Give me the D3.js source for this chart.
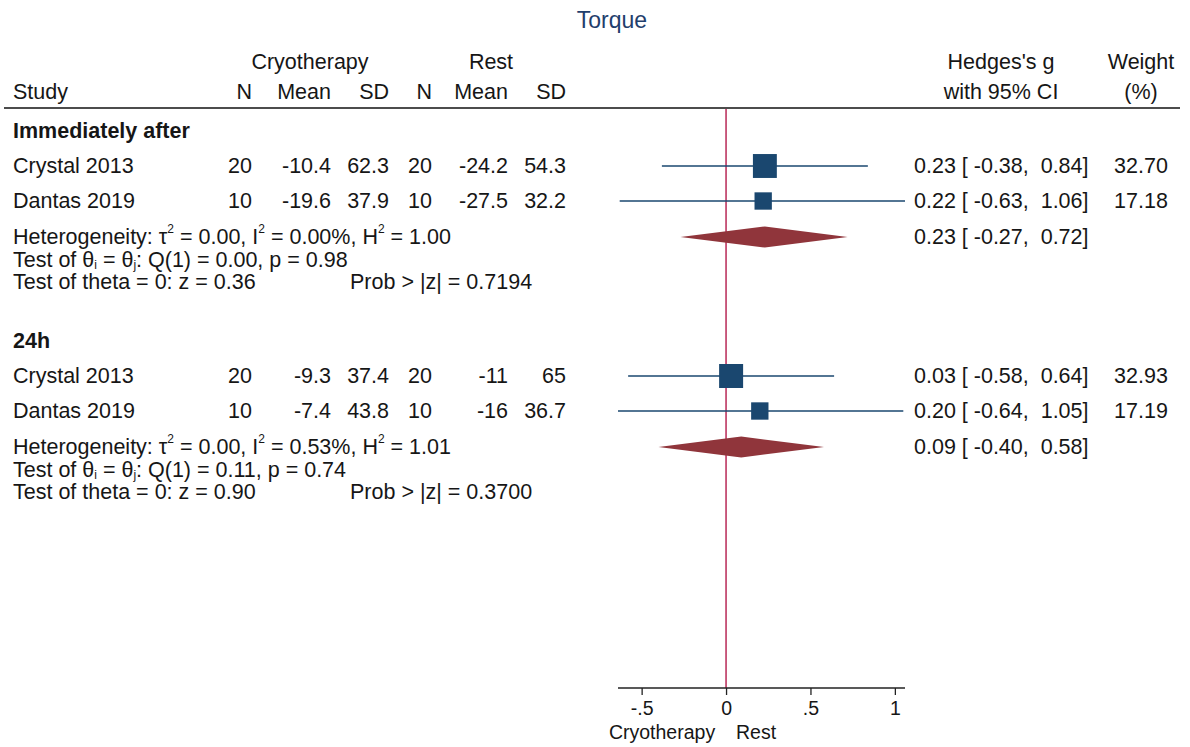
<!DOCTYPE html>
<html>
<head>
<meta charset="utf-8">
<script src="https://cdn.jsdelivr.net/npm/d3@7"></script>
<style>
  html, body { margin: 0; padding: 0; background: #fff; }
  svg { display: block; font-family: "Liberation Sans", Arial, sans-serif; }
</style>
</head>
<body>
<svg id="chart" width="1190" height="747"></svg>
<script>
// ---- data ----
const title = "Torque";
const groups = ["Immediately after", "24h"];
const studies = [
  ["Crystal 2013", "Dantas 2019"],
  ["Crystal 2013", "Dantas 2019"]
];
const cryoN    = [[20, 10], [20, 10]];
const cryoMean = [["-10.4", "-19.6"], ["-9.3", "-7.4"]];
const cryoSD   = [["62.3", "37.9"], ["37.4", "43.8"]];
const restN    = [[20, 10], [20, 10]];
const restMean = [["-24.2", "-27.5"], ["-11", "-16"]];
const restSD   = [["54.3", "32.2"], ["65", "36.7"]];
const effect   = [[0.23, 0.22], [0.03, 0.20]];
const lower    = [[-0.38, -0.63], [-0.58, -0.64]];
const upper    = [[0.84, 1.06], [0.64, 1.05]];
const weight   = [[32.70, 17.18], [32.93, 17.19]];
const pooledEffect = [0.23, 0.09];
const pooledLower  = [-0.27, -0.40];
const pooledUpper  = [0.72, 0.58];
const tau2 = ["0.00", "0.00"];
const i2   = ["0.00", "0.53"];
const h2   = ["1.00", "1.01"];
const qStat = ["0.00", "0.11"];
const qP    = ["0.98", "0.74"];
const zStat = ["0.36", "0.90"];
const zP    = ["0.7194", "0.3700"];
const xTicks = [-0.5, 0, 0.5, 1];
const xTickLabels = ["-.5", "0", ".5", "1"];
const favourLabels = ["Cryotherapy", "Rest"];

// ---- layout ----
const svg = d3.select("#chart");
const FS = 21.5;
const textColor = "#161616";
const navy = "#1a476f";
const maroon = "#90353b";
const refColor = "#b3194a";

const x = d3.scaleLinear()
  .domain([d3.min(lower.flat()), d3.max(upper.flat())])
  .range([618, 905]);
// one row step per study line
const y = d3.scaleLinear().domain([0, 1]).range([131, 166]);
const axisY = 688;
const headerLineY = 108;

// square side proportional to sqrt(weight)
const side = d3.scaleSqrt().domain([0, d3.max(weight.flat())]).range([0, 24]);

function txt(xp, yp, s, anchor, opts = {}) {
  return svg.append("text")
    .attr("x", xp).attr("y", yp)
    .attr("text-anchor", anchor || "start")
    .attr("dominant-baseline", "central")
    .attr("font-size", opts.size || FS)
    .attr("font-weight", opts.weight || "normal")
    .attr("fill", opts.color || textColor)
    .style("white-space", "pre")
    .text(s);
}

// title
txt(612, 20, title, "middle", { size: 23, color: "#1f3e6c" });

// column headers
const colRight = { n1: 252, m1: 331, sd1: 389, n2: 432, m2: 508, sd2: 566 };
txt(310, 62, "Cryotherapy", "middle");
txt(491, 62, "Rest", "middle");
txt(13, 92, "Study", "start");
txt(colRight.n1, 92, "N", "end");
txt(colRight.m1, 92, "Mean", "end");
txt(colRight.sd1, 92, "SD", "end");
txt(colRight.n2, 92, "N", "end");
txt(colRight.m2, 92, "Mean", "end");
txt(colRight.sd2, 92, "SD", "end");
txt(1001, 62, "Hedges's g", "middle");
txt(1001, 92, "with 95% CI", "middle");
txt(1141, 62, "Weight", "middle");
txt(1141, 92, "(%)", "middle");

svg.append("line")
  .attr("x1", 4).attr("x2", 1180)
  .attr("y1", headerLineY).attr("y2", headerLineY)
  .attr("stroke", "#111").attr("stroke-width", 1.6);

// no-effect reference line
svg.append("line")
  .attr("x1", x(0)).attr("x2", x(0))
  .attr("y1", headerLineY + 1).attr("y2", axisY)
  .attr("stroke", refColor).attr("stroke-width", 1.4);

const fmt = v => v.toFixed(2);
function ciText(e, l, u) {
  const pad = v => (v < 0 ? "" : " ") + fmt(v);
  return fmt(e) + " [" + (l < 0 ? " " : "  ") + fmt(l) + ", " + pad(u) + "]";
}

groups.forEach((g, gi) => {
  const base = gi * 6;
  txt(13, y(base), g, "start", { weight: "bold" });

  studies[gi].forEach((s, si) => {
    const yy = y(base + 1 + si);
    txt(13, yy, s, "start");
    txt(colRight.n1, yy, String(cryoN[gi][si]), "end");
    txt(colRight.m1, yy, cryoMean[gi][si], "end");
    txt(colRight.sd1, yy, cryoSD[gi][si], "end");
    txt(colRight.n2, yy, String(restN[gi][si]), "end");
    txt(colRight.m2, yy, restMean[gi][si], "end");
    txt(colRight.sd2, yy, restSD[gi][si], "end");

    // confidence interval
    svg.append("line")
      .attr("x1", x(lower[gi][si])).attr("x2", x(upper[gi][si]))
      .attr("y1", yy).attr("y2", yy)
      .attr("stroke", navy).attr("stroke-width", 1.5);
    // weighted square
    const sd = side(weight[gi][si]);
    svg.append("rect")
      .attr("x", x(effect[gi][si]) - sd / 2).attr("y", yy - sd / 2)
      .attr("width", sd).attr("height", sd)
      .attr("fill", navy);

    txt(914, yy, ciText(effect[gi][si], lower[gi][si], upper[gi][si]), "start");
    txt(1141, yy, fmt(weight[gi][si]), "middle");
  });

  // pooled estimate
  const py = y(base + 3) + 1;
  const e = pooledEffect[gi], l = pooledLower[gi], u = pooledUpper[gi];
  svg.append("path")
    .attr("d", `M${x(l)},${py} L${x(e)},${py - 10.5} L${x(u)},${py} L${x(e)},${py + 10.5} Z`)
    .attr("fill", maroon);
  txt(914, py, ciText(e, l, u), "start");

  // heterogeneity statistics
  const h1 = svg.append("text")
    .attr("x", 13).attr("y", py).attr("dominant-baseline", "central")
    .attr("font-size", FS).attr("fill", textColor);
  h1.append("tspan").text("Heterogeneity: \u03C4");
  h1.append("tspan").attr("dy", -8).attr("font-size", 12).text("2");
  h1.append("tspan").attr("dy", 8).text(" = " + tau2[gi] + ", I");
  h1.append("tspan").attr("dy", -8).attr("font-size", 12).text("2");
  h1.append("tspan").attr("dy", 8).text(" = " + i2[gi] + "%, H");
  h1.append("tspan").attr("dy", -8).attr("font-size", 12).text("2");
  h1.append("tspan").attr("dy", 8).text(" = " + h2[gi]);

  const h2t = svg.append("text")
    .attr("x", 13).attr("y", py + 22.5).attr("dominant-baseline", "central")
    .attr("font-size", FS).attr("fill", textColor);
  h2t.append("tspan").text("Test of \u03B8");
  h2t.append("tspan").attr("dy", 5).attr("font-size", 12).text("i");
  h2t.append("tspan").attr("dy", -5).text(" = \u03B8");
  h2t.append("tspan").attr("dy", 5).attr("font-size", 12).text("j");
  h2t.append("tspan").attr("dy", -5).text(": Q(1) = " + qStat[gi] + ", p = " + qP[gi]);

  txt(13, py + 45, "Test of theta = 0: z = " + zStat[gi], "start");
  txt(350, py + 45, "Prob > |z| = " + zP[gi], "start");
});

// x axis
const axis = d3.axisBottom(x)
  .tickValues(xTicks)
  .tickFormat((d, i) => xTickLabels[i])
  .tickSize(7).tickSizeOuter(0);
const ax = svg.append("g").attr("transform", `translate(0,${axisY})`).call(axis);
ax.select(".domain").attr("stroke", "#222").attr("stroke-width", 1.3)
  .attr("d", `M${x.range()[0]},0H${x.range()[1]}`);
ax.selectAll(".tick line").attr("stroke", "#222").attr("stroke-width", 1.3);
ax.selectAll(".tick text")
  .attr("font-size", 19.5).attr("font-family", "Liberation Sans, Arial, sans-serif")
  .attr("fill", textColor).attr("dy", null).attr("y", 27);

txt(x(0) - 64, 732, favourLabels[0], "middle", { size: 19.5 });
txt(x(0) + 30, 732, favourLabels[1], "middle", { size: 19.5 });
</script>
</body>
</html>
